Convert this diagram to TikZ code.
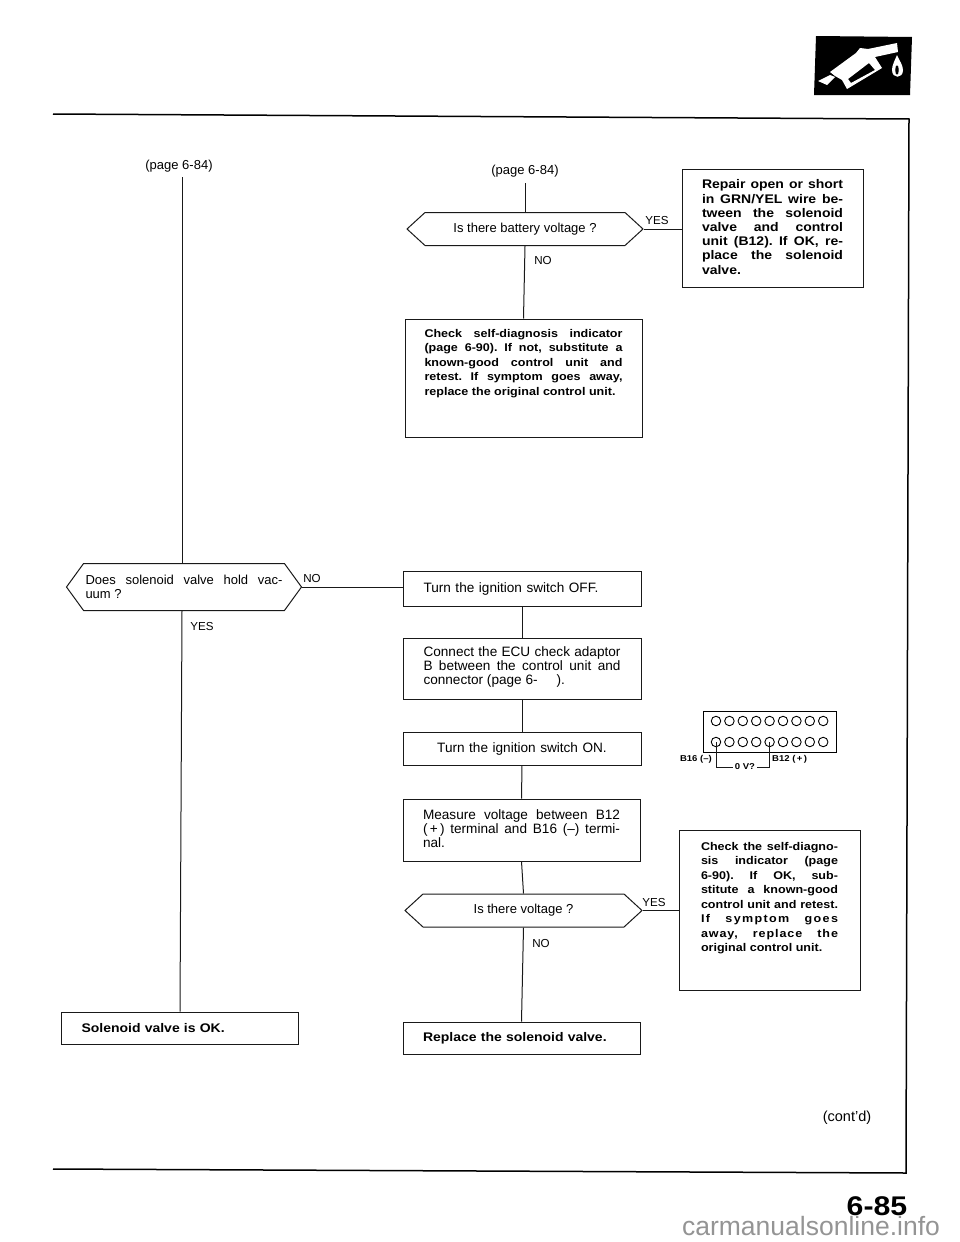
\documentclass[tikz,border=0pt]{standalone}
\usepackage{fontspec}
\setmainfont{Liberation Sans}[BoldFeatures={FakeStretch=1.12}]
\usetikzlibrary{shapes.symbols}
\tikzset{
	flowline/.style={line width=1pt,black!90},
	framerule/.style={line width=1.5pt},
	flowbox/.style n args={3}{draw,line width=1pt,black!90,text=black,minimum width=#1,minimum height=#2,text width=#3,align=left,inner xsep=0pt,inner ysep=0pt,font=\flowfont},
	boldbox/.style n args={3}{flowbox={#1}{#2}{#3},font=\flowbold},
	hexbox/.style n args={3}{draw,line width=1pt,black!90,text=black,signal,signal to=east and west,signal pointer angle=#3,minimum width=#1,minimum height=#2,align=center,inner xsep=0pt,inner ysep=0pt,font=\hexfont},
	answer/.style={font=\answerfont,inner sep=0pt},
	pin/.style={circle,draw,line width=0.9pt,minimum size=9.5pt,inner sep=0pt},
	pinlabel/.style={font=\bfseries\fontsize{8.5}{10}\selectfont,inner sep=0pt},
}
\newcommand{\flowfont}{\frenchspacing\fontsize{13.6}{14.3}\selectfont}
\newcommand{\hexfont}{\frenchspacing\fontsize{13}{14}\selectfont}
\newcommand{\answerfont}{\fontsize{11.6}{14}\selectfont}
\newcommand{\flowbold}{\frenchspacing\bfseries\fontsize{11.2}{14.5}\selectfont}
\newcommand{\largebold}{\frenchspacing\bfseries\fontsize{12.5}{14.2}\selectfont}
\begin{document}
\begin{tikzpicture}[x=1pt,y=-1pt]
	\useasboundingbox (0,0) rectangle (960,1242);

	% Page frame
	\draw[framerule] (53,114) -- (909,119) -- (906,1173) -- (53,1169);

	% Fuel icon
	\fill (816,36) -- (912,37) -- (910,95) -- (814,95) -- cycle;
	\fill[white,even odd rule] (830,72) -- (856,53) -- (860,48) -- (868,49) -- (897,43) -- (898,52) -- (875,57) -- (882,68) -- (847,89) -- (842,80) -- (835,76) -- cycle
		(848,79) -- (869,63) -- (875,70) -- (851,83) -- cycle;
	\fill[white] (818,81) -- (830,75) -- (835,77) -- (827,85) -- cycle;
	\fill[white,even odd rule] (897,55) .. controls (899,60) and (903,65) .. (903,70) .. controls (903,79) and (892,79) .. (892,70) .. controls (892,65) and (895,60) .. (897,55) -- cycle
		(897,70) ellipse[x radius=1.8,y radius=5];

	% Left branch
	\coordinate (solline) at (182,0);
	\node[font=\hexfont,inner sep=5pt] (pagesol) at (179,166) {(page 6-84)};
	\node[hexbox={235pt}{47pt}{108}] (hexsol) at (184,587) {\parbox{197pt}{\setlength{\baselineskip}{14pt}Does solenoid valve hold vac-\linebreak uum ?}};
	\node[boldbox={237pt}{32pt}{197pt},font=\largebold] (solok) at (180,1028) {Solenoid valve is OK.};
	\draw[flowline] (pagesol.south -| solline) -- (hexsol.north -| solline);
	\draw[flowline] (hexsol.south -| solline) -- (solok.north);
	\node[answer] (yessol) at (202,626) {YES};
	\node[answer] (nosol) at (312,578) {NO};

	% Top of the right branch
	\node[font=\hexfont,inner sep=6pt] (pagebat) at (525,171) {(page 6-84)};
	\node[hexbox={236pt}{33pt}{85}] (hexbat) at (525,229) {Is there battery voltage ?};
	\node[boldbox={181pt}{118pt}{141pt},align=justify,font=\largebold] (repair) at (772.5,228) {Repair open or short\linebreak in GRN/YEL wire be-\linebreak tween the solenoid\linebreak valve and control\linebreak unit (B12). If OK, re-\linebreak place the solenoid\linebreak valve.\par\vspace*{2pt}};
	\node[boldbox={237pt}{118pt}{198pt},align=justify] (check) at (523.5,378) {Check self-diagnosis indicator\linebreak (page 6-90). If not, substitute a\linebreak known-good control unit and\linebreak retest. If symptom goes away,\linebreak replace the original control unit.\par\vspace*{29pt}};
	\draw[flowline] (pagebat.south -| hexbat.north) -- (hexbat.north);
	\draw[flowline] (hexbat.east) -- (hexbat.east -| repair.west);
	\draw[flowline] (hexbat.south) -- (check.north);
	\node[answer] (yesbat) at (657,221) {YES};
	\node[answer] (nobat) at (543,261) {NO};

	% Middle of the right branch
	\node[flowbox={238pt}{35pt}{197pt}] (turnoff) at (522,588.5) {Turn the ignition switch OFF.};
	\node[flowbox={238pt}{61pt}{197pt},align=justify] (adaptor) at (522,668.5) {Connect the ECU check adaptor\linebreak B between the control unit and\linebreak connector (page 6-\hspace{1.4em}).\par\vspace*{3pt}};
	\node[flowbox={238pt}{33pt}{197pt},align=center] (turnon) at (522,748.5) {Turn the ignition switch ON.};
	\node[flowbox={237pt}{62pt}{197pt},align=justify] (measure) at (521.5,830) {Measure voltage between B12\linebreak (\,+\,) terminal and B16 (--) termi-\linebreak nal.\par\vspace*{3pt}};
	\draw[flowline] (hexsol.east) -- (hexsol.east -| turnoff.west);
	\draw[flowline] (turnoff.south) -- (adaptor.north);
	\draw[flowline] (adaptor.south) -- (turnon.north);
	\draw[flowline] (turnon.south) -- (measure.north);

	% Bottom of the right branch
	\node[hexbox={237pt}{33pt}{85}] (hexvolt) at (523.5,910.5) {Is there voltage ?};
	\node[boldbox={181pt}{160pt}{137pt},align=justify] (recheck) at (769.5,910) {Check the self-diagno-\linebreak sis indicator (page\linebreak 6-90). If OK, sub-\linebreak stitute a known-good\linebreak control unit and retest.\linebreak {\addfontfeature{LetterSpace=12}If symptom goes}\linebreak {\addfontfeature{LetterSpace=8}away, replace the}\linebreak original control unit.\par\vspace*{24pt}};
	\node[boldbox={237pt}{32pt}{197pt},font=\largebold] (replace) at (521.5,1038) {Replace the solenoid valve.};
	\draw[flowline] (measure.south) -- (hexvolt.north);
	\draw[flowline] (hexvolt.east) -- (hexvolt.east -| recheck.west);
	\draw[flowline] (hexvolt.south) -- (replace.north);
	\node[answer] (yesvolt) at (654,902) {YES};
	\node[answer] (novolt) at (541,943) {NO};

	% Connector
	\node[draw,line width=1pt,minimum width=133pt,minimum height=41pt,inner sep=0pt] (connector) at (769.5,731.5) {};
	\foreach \row/\y in {1/721,2/742}
		\foreach \n in {1,...,9}
			\node[pin] (pin-\row-\n) at ({716+13.4*(\n-1)},\y) {};
	\node[pinlabel,inner xsep=1.5pt] (zerovolt) at (745,767) {0 V?};
	\draw[flowline] (pin-2-1.center) |- (zerovolt.west);
	\draw[flowline] (pin-2-5.center) |- (zerovolt.east);
	\node[pinlabel,anchor=east] (minus) at (712,759) {B16 (--)};
	\node[pinlabel,anchor=west] (plus) at (772,759) {B12 (\,+\,)};

	% Page foot
	\node[font=\fontsize{14.5}{15}\selectfont,inner sep=0pt] (contd) at (847,1118) {(cont'd)};
	\node[font=\bfseries\fontsize{27}{27}\selectfont,inner sep=0pt] (pagenum) at (877,1206) {6-85};
	\node[font=\fontsize{26.5}{27}\selectfont,text=black!42,inner sep=0pt] (site) at (811,1226) {carmanualsonline.info};
\end{tikzpicture}
\end{document}
